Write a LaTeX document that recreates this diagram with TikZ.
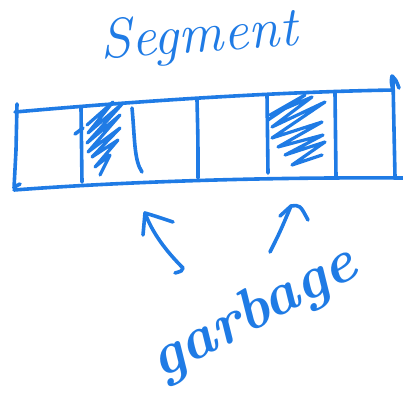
\documentclass[tikz,border=0pt]{standalone}
\usetikzlibrary{calc}
\definecolor{ink}{RGB}{31,123,229}
\begin{document}
\begin{tikzpicture}[x=1pt,y=-1pt,
  pen/.style={draw=ink,line width=3.6pt,line cap=round,line join=round},
  fine/.style={draw=ink,line width=3.2pt,line cap=round,line join=round},
  word/.style={text=ink,font=\itshape,inner sep=0pt}]
\useasboundingbox (0,0) rectangle (403,397);

% title and label
\node[word,font=\fontsize{56}{56}\selectfont\itshape,rotate=4] (title) at (199,38) {Segment};
\node[word,font=\fontsize{60}{60}\selectfont\bfseries\itshape,rotate=28] (label) at (254,314) {garbage};

% segment outline
\coordinate (tl) at (17,110);
\coordinate (tr) at (393,90);
\coordinate (bl) at (17,190);
\coordinate (br) at (403,178);
\draw[pen] (15,112) .. controls (150,100) and (280,92) .. (tr)
  .. controls (391,82) .. (392,76) .. controls (396,80) .. (399,88);
\draw[pen] (17,104) -- (16,150) -- (14,188) .. controls (16,186) .. (20,184);
\draw[pen] (14,190) .. controls (120,182) and (260,177) .. (br);
\draw[pen] (393,80) .. controls (394,130) .. (395,177);

% block boundaries
\draw[pen] (81,108) -- (82,182);
\draw[pen] (75,134) -- (83,128);
\draw[pen] (197,100) .. controls (198,140) .. (198,178);
\draw[pen] (267,95) -- (268,173);
\draw[pen] (335,93) -- (336,177);
\draw[pen] (132,108) .. controls (135,140) and (134,160) .. (142,172);

% hatched block (left)
\draw[fine] (87,125) -- (113,102) -- (88,133) -- (123,103) -- (87,143)
  -- (120,115) -- (88,152) -- (120,128) -- (92,157) -- (118,140)
  -- (95,167) -- (110,155) -- (100,175);

% hatched block (right)
\draw[fine] (268,120) -- (305,95) -- (270,115) -- (312,97) -- (272,127)
  -- (325,102) -- (272,138) -- (322,122) -- (278,147) -- (323,135)
  -- (285,155) -- (325,142) -- (292,165) -- (322,155);

% arrows from the label to the hatched blocks
\coordinate (a1tail) at (175,273);
\coordinate (a1tip) at (145,213);
\coordinate (a2tail) at (270,252);
\coordinate (a2tip) at (291,206);
\draw[pen] (a1tail) .. controls (182,271) .. (183,268)
  .. controls (165,250) and (152,232) .. (a1tip);
\draw[pen] (143,235) -- (a1tip) .. controls (155,216) .. (173,222);
\draw[pen] (a2tail) .. controls (280,232) .. (a2tip);
\draw[pen] (280,216) -- (a2tip) .. controls (300,205) .. (308,220);
\end{tikzpicture}
\end{document}
